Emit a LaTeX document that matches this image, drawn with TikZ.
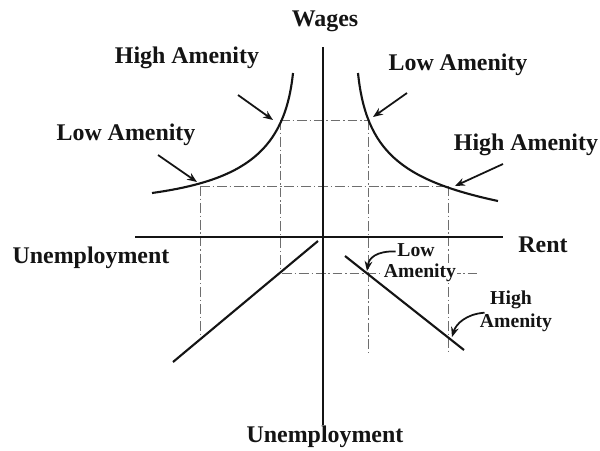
\documentclass[tikz,border=0pt]{standalone}
\usepackage{fontspec}
\setmainfont{Liberation Serif}
\usetikzlibrary{arrows.meta,calc,positioning}
\definecolor{ink}{HTML}{141414}
\definecolor{guidegray}{HTML}{6E6E6E}
\tikzset{>={Stealth[length=7pt,width=5.5pt]},
  every node/.style={font=\fontsize{17}{20}\selectfont\bfseries,text=ink},
  axis/.style={draw=ink,line width=1.9pt},
  curve/.style={draw=ink,line width=1.5pt},
  guide/.style={draw=guidegray,line width=.6pt,dash pattern=on 7pt off 2pt on 1pt off 2pt},
  pointer/.style={->,draw=ink,line width=1.25pt},
  smalltag/.style={font=\fontsize{14}{15}\selectfont\bfseries,inner sep=1pt}}

\begin{document}
\begin{tikzpicture}[x=.025cm,y=-.025cm]
\useasboundingbox[fill=white] (0,0) rectangle (600,450);
% dashed guides
\draw[guide] (280,120)--(368,120);\draw[guide] (200,186)--(448,186);
\draw[guide] (282,273)--(477,273);
\draw[guide] (280,120)--(280,273);\draw[guide] (200,186)--(200,339);
\draw[guide] (368,120)--(368,353);\draw[guide] (448,186)--(448,353);
% axes
\draw[axis] (135,237)--(503,237);\draw[axis] (323,47)--(323,425);
% wage curves and rent/unemployment lines
\draw[curve] (293,73) .. controls (285,150) and (245,180) .. (152,193);
\draw[curve] (358,73) .. controls (366,150) and (400,180) .. (498,201);
\draw[curve] (173,362)--(318,241);
\draw[curve] (345,256)--(464,350);
\coordinate (hiTip) at (273,120);\coordinate (loTip) at (197,182);
\coordinate (loRTip) at (373,117);\coordinate (hiRTip) at (455,186);
\coordinate (loCTip) at (367,271);\coordinate (hiCTip) at (452,337);
% labels
\node (wagesL) at (325,21) {Wages};
\node (rentL) at (543,245) {Rent};
\node (unemL) at (91,258) {Unemployment};
\node (unemB) at (325,437) {Unemployment};
\node (hiL) at (187,58) {High Amenity};
\node (loL) at (126,135) {Low Amenity};
\node (loR) at (458,65) {Low Amenity};
\node (hiR) at (526,145) {High Amenity};
\node[smalltag] (loC) at (416,250) {Low};
\node[smalltag,fill=white] (amC) at (420,273) {Amenity};
\node[smalltag] (hiD) at (511,300) {High};
\node[smalltag] (amD) at (516,323) {Amenity};
% pointers
\draw[pointer] ([shift={(51,37)}]hiL.center)--(hiTip);
\draw[pointer] ([shift={(32,20)}]loL.center)--(loTip);
\draw[pointer] ([shift={(-51,28)}]loR.center)--(loRTip);
\draw[pointer] ([shift={(-23,19)}]hiR.center)--(hiRTip);
\draw[pointer] ([yshift=-1pt]loC.west) .. controls (376,251) and (369,258) .. (loCTip);
\draw[pointer] ([shift={(-4,2)}]hiD.south west) .. controls (466,314) and (456,324) .. (hiCTip);
\end{tikzpicture}
\end{document}
